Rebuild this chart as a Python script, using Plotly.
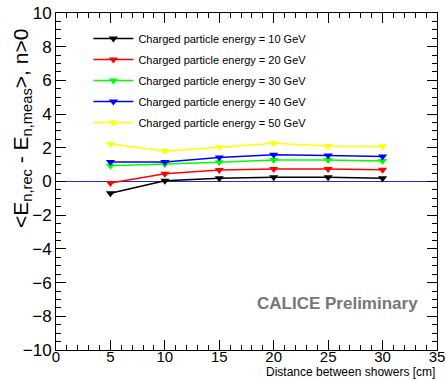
import plotly.graph_objects as go

distance = [5, 10, 15, 20, 25, 30]
energies = ["10", "20", "30", "40", "50"]
vals_10 = [-0.70, 0.05, 0.19, 0.25, 0.25, 0.19]
vals_20 = [-0.09, 0.46, 0.68, 0.74, 0.74, 0.70]
vals_30 = [0.94, 1.02, 1.14, 1.28, 1.28, 1.22]
vals_40 = [1.16, 1.16, 1.43, 1.59, 1.55, 1.49]
vals_50 = [2.23, 1.81, 2.03, 2.27, 2.10, 2.07]
colors = ["#000000", "#ff0000", "#00ff00", "#0000ff", "#ffff00"]
series = [vals_10, vals_20, vals_30, vals_40, vals_50]

FONT = "Liberation Sans, Arial, sans-serif"

fig = go.Figure()
for e, v, c in zip(energies, series, colors):
    fig.add_trace(go.Scatter(
        x=distance, y=v, mode="lines+markers",
        name=f"Charged particle energy = {e} GeV",
        legendgroup=e,
        line=dict(color=c, width=1.5),
        marker=dict(symbol="triangle-down", size=8, color=c),
    ))

fig.add_hline(y=0, line=dict(color="#1f30c0", width=1), layer="below")

fig.update_layout(
    width=446, height=380,
    margin=dict(l=56, r=9, t=13, b=30),
    paper_bgcolor="white", plot_bgcolor="white",
    font=dict(family=FONT, color="black"),
    showlegend=True,
    legend=dict(
        x=0.085, y=0.967, xanchor="left", yanchor="top",
        bgcolor="rgba(0,0,0,0)", font=dict(size=11, family=FONT),
        itemwidth=40, tracegroupgap=2,
    ),
)

fig.update_xaxes(
    range=[0, 35], dtick=5, tick0=0, automargin=False,
    ticks="inside", ticklen=10, tickwidth=1, tickcolor="black",
    minor=dict(dtick=1, ticks="inside", ticklen=5, tickcolor="black"),
    showline=True, linecolor="black", linewidth=1, mirror="ticks",
    showgrid=False, zeroline=False,
    tickfont=dict(size=15, family=FONT), ticklabelstandoff=-7,
)
fig.update_yaxes(
    range=[-10, 10], dtick=2, tick0=0, automargin=False,
    ticks="inside", ticklen=10, tickwidth=1, tickcolor="black",
    minor=dict(dtick=0.5, ticks="inside", ticklen=5, tickcolor="black"),
    showline=True, linecolor="black", linewidth=1, mirror="ticks",
    showgrid=False, zeroline=False,
    tickfont=dict(size=17, family=FONT),
)

fig.add_annotation(
    text="Distance between showers [cm]", xref="paper", yref="paper",
    x=1.0, y=(350 - 372) / 337, xanchor="right", yanchor="middle", showarrow=False,
    font=dict(size=12, family=FONT, color="black"),
)
fig.add_annotation(
    text="<E<sub>n,rec</sub> - E<sub>n,meas</sub>>, n>0",
    xref="paper", yref="paper",
    x=(22 - 56) / 381, y=(350 - 129) / 337, xanchor="center", yanchor="middle",
    textangle=-90, showarrow=False,
    font=dict(size=21, family=FONT, color="black"),
)
fig.add_annotation(
    text="<b>CALICE Preliminary</b>", xref="paper", yref="paper",
    x=(420 - 56) / 381, y=(350 - 303) / 337, xanchor="right", yanchor="middle",
    showarrow=False, font=dict(size=17, family=FONT, color="#777777"),
)

fig.write_html("out.html")
